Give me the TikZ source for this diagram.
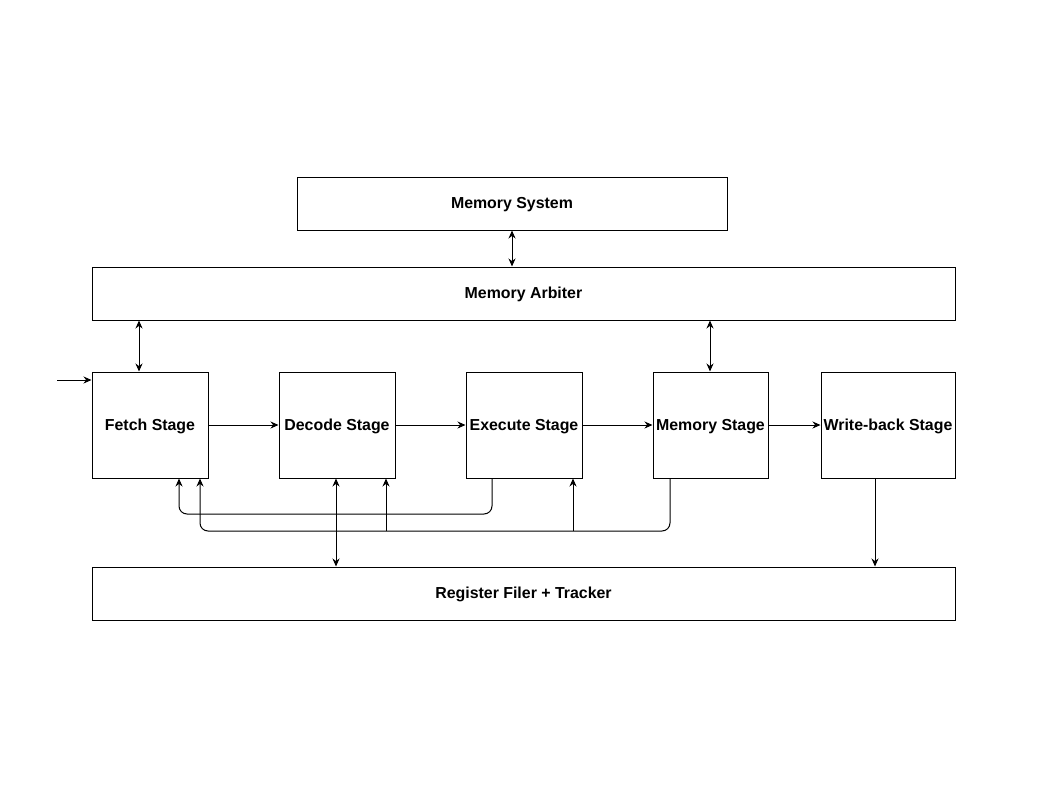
\documentclass[tikz,border=0pt]{standalone}
\usepackage{fontspec}
\setmainfont{Liberation Sans}
\usetikzlibrary{arrows.meta}
\begin{document}
\begin{tikzpicture}[x=1pt,y=-1pt,
  blk/.style={draw, line width=1pt, inner sep=0pt, text height=11.5pt, text depth=1.5pt,
    font=\fontsize{15.9}{18}\selectfont\bfseries},
  conn/.style={line width=1pt, -{Stealth[length=8pt,width=7pt]}},
  biconn/.style={line width=1pt, {Stealth[length=8pt,width=7pt]}-{Stealth[length=8pt,width=7pt]}},
  fb/.style={conn, rounded corners=8pt}]
\useasboundingbox (0,0) rectangle (1058,793);
% boxes
\node[blk, minimum width=430pt, minimum height=53pt] (msys) at (512,203.5) {Memory System};
\node[blk, minimum width=863pt, minimum height=53pt] (arb) at (523.5,293.5) {Memory Arbiter};
\node[blk, minimum width=116pt, minimum height=106pt] (fetch) at (150,425) {Fetch Stage};
\node[blk, minimum width=116pt, minimum height=106pt] (dec) at (337,425) {Decode Stage};
\node[blk, minimum width=116pt, minimum height=106pt] (exe) at (524,425) {Execute Stage};
\node[blk, minimum width=115pt, minimum height=106pt] (mem) at (710.5,425) {Memory Stage};
\node[blk, minimum width=134pt, minimum height=106pt] (wb) at (888,425) {Write-back Stage};
\node[blk, minimum width=863pt, minimum height=53pt] (rf) at (523.5,593.5) {Register Filer + Tracker};
% memory links
\draw[biconn] (msys.south) -- (arb.north -| msys.south);
\draw[biconn] (arb.south -| 139,0) -- (fetch.north -| 139,0);
\draw[biconn] (arb.south -| 710,0) -- (mem.north -| 710,0);
% pipeline
\coordinate (in) at (57,380);
\draw[conn] (in) -- (fetch.west |- in);
\draw[conn] (fetch) -- (dec);
\draw[conn] (dec) -- (exe);
\draw[conn] (exe) -- (mem);
\draw[conn] (mem) -- (wb);
% register file
\draw[conn] (wb.south -| 875,0) -- (rf.north -| 875,0);
\draw[biconn] (dec.south -| 336,0) -- (rf.north -| 336,0);
% feedback paths
\draw[fb] (exe.south -| 492,0) -- (492,514) -- (179,514) -- (fetch.south -| 179,0);
\draw[fb] (mem.south -| 670,0) -- (670,531) -- (200,531) -- (fetch.south -| 200,0);
\draw[conn] (386,531) -- (dec.south -| 386,0);
\draw[conn] (573,531) -- (exe.south -| 573,0);
\end{tikzpicture}
\end{document}
